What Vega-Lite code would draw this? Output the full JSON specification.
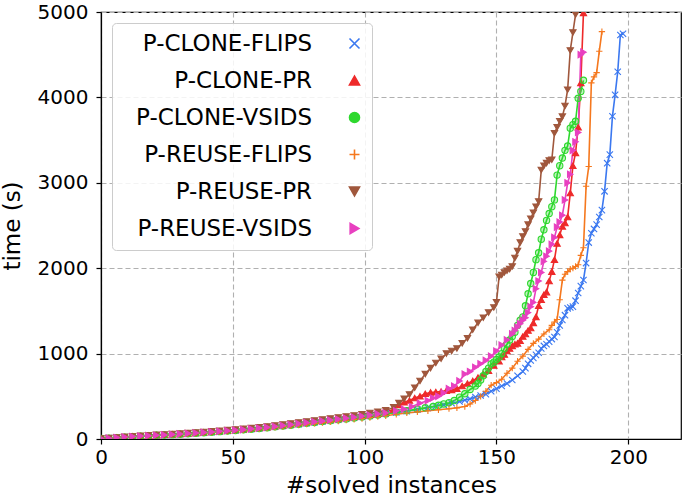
{
  "$schema": "https://vega.github.io/schema/vega-lite/v6.json",
  "width": 580,
  "height": 427,
  "autosize": "none",
  "padding": {"left": 101, "top": 12, "right": 4, "bottom": 60},
  "background": "white",
  "config": {
    "font": "DejaVu Sans",
    "view": {"stroke": "black", "strokeWidth": 1.2},
    "axis": {
      "domainColor": "black", "domainWidth": 1.2, "tickColor": "black", "tickWidth": 1.2, "tickSize": 5,
      "labelColor": "black", "titleColor": "black", "labelFont": "DejaVu Sans", "titleFont": "DejaVu Sans",
      "labelFontSize": 20, "titleFontSize": 23, "titleFontWeight": "normal",
      "gridColor": "#b0b0b0", "gridDash": [5, 3], "gridWidth": 1.1
    }
  },
  "data": {"values": [
    {"s":"P-CLONE-FLIPS","n":0,"t":5},{"s":"P-CLONE-FLIPS","n":3,"t":10},{"s":"P-CLONE-FLIPS","n":6,"t":17},{"s":"P-CLONE-FLIPS","n":9,"t":23},{"s":"P-CLONE-FLIPS","n":12,"t":28},{"s":"P-CLONE-FLIPS","n":15,"t":33},{"s":"P-CLONE-FLIPS","n":18,"t":38},{"s":"P-CLONE-FLIPS","n":21,"t":43},{"s":"P-CLONE-FLIPS","n":24,"t":47},{"s":"P-CLONE-FLIPS","n":27,"t":52},{"s":"P-CLONE-FLIPS","n":30,"t":57},{"s":"P-CLONE-FLIPS","n":33,"t":63},{"s":"P-CLONE-FLIPS","n":36,"t":69},{"s":"P-CLONE-FLIPS","n":39,"t":74},{"s":"P-CLONE-FLIPS","n":42,"t":80},{"s":"P-CLONE-FLIPS","n":45,"t":87},{"s":"P-CLONE-FLIPS","n":48,"t":94},{"s":"P-CLONE-FLIPS","n":51,"t":101},{"s":"P-CLONE-FLIPS","n":54,"t":108},{"s":"P-CLONE-FLIPS","n":57,"t":116},{"s":"P-CLONE-FLIPS","n":60,"t":124},{"s":"P-CLONE-FLIPS","n":63,"t":133},{"s":"P-CLONE-FLIPS","n":66,"t":143},{"s":"P-CLONE-FLIPS","n":69,"t":153},{"s":"P-CLONE-FLIPS","n":72,"t":164},{"s":"P-CLONE-FLIPS","n":75,"t":174},{"s":"P-CLONE-FLIPS","n":78,"t":185},{"s":"P-CLONE-FLIPS","n":81,"t":196},{"s":"P-CLONE-FLIPS","n":84,"t":206},{"s":"P-CLONE-FLIPS","n":87,"t":216},{"s":"P-CLONE-FLIPS","n":90,"t":226},{"s":"P-CLONE-FLIPS","n":93,"t":237},{"s":"P-CLONE-FLIPS","n":96,"t":248},{"s":"P-CLONE-FLIPS","n":99,"t":260},{"s":"P-CLONE-FLIPS","n":102,"t":271},{"s":"P-CLONE-FLIPS","n":105,"t":284},{"s":"P-CLONE-FLIPS","n":108,"t":297},{"s":"P-CLONE-FLIPS","n":112,"t":310},{"s":"P-CLONE-FLIPS","n":116,"t":325},{"s":"P-CLONE-FLIPS","n":120,"t":345},{"s":"P-CLONE-FLIPS","n":124,"t":365},{"s":"P-CLONE-FLIPS","n":127,"t":385},{"s":"P-CLONE-FLIPS","n":130,"t":400},{"s":"P-CLONE-FLIPS","n":133,"t":418},{"s":"P-CLONE-FLIPS","n":136,"t":440},{"s":"P-CLONE-FLIPS","n":138,"t":455},{"s":"P-CLONE-FLIPS","n":140,"t":470},{"s":"P-CLONE-FLIPS","n":142,"t":492},{"s":"P-CLONE-FLIPS","n":144,"t":510},{"s":"P-CLONE-FLIPS","n":146,"t":525},{"s":"P-CLONE-FLIPS","n":148,"t":560},{"s":"P-CLONE-FLIPS","n":150,"t":590},{"s":"P-CLONE-FLIPS","n":152,"t":620},{"s":"P-CLONE-FLIPS","n":154,"t":650},{"s":"P-CLONE-FLIPS","n":156,"t":690},{"s":"P-CLONE-FLIPS","n":158,"t":740},{"s":"P-CLONE-FLIPS","n":160,"t":790},{"s":"P-CLONE-FLIPS","n":161,"t":830},{"s":"P-CLONE-FLIPS","n":162,"t":880},{"s":"P-CLONE-FLIPS","n":163,"t":920},{"s":"P-CLONE-FLIPS","n":164,"t":950},{"s":"P-CLONE-FLIPS","n":165,"t":985},{"s":"P-CLONE-FLIPS","n":166,"t":1010},{"s":"P-CLONE-FLIPS","n":167,"t":1060},{"s":"P-CLONE-FLIPS","n":168,"t":1090},{"s":"P-CLONE-FLIPS","n":169,"t":1110},{"s":"P-CLONE-FLIPS","n":170,"t":1140},{"s":"P-CLONE-FLIPS","n":171,"t":1170},{"s":"P-CLONE-FLIPS","n":172,"t":1195},{"s":"P-CLONE-FLIPS","n":173,"t":1250},{"s":"P-CLONE-FLIPS","n":174,"t":1330},{"s":"P-CLONE-FLIPS","n":175,"t":1395},{"s":"P-CLONE-FLIPS","n":176,"t":1450},{"s":"P-CLONE-FLIPS","n":177,"t":1530},{"s":"P-CLONE-FLIPS","n":178,"t":1540},{"s":"P-CLONE-FLIPS","n":179,"t":1550},{"s":"P-CLONE-FLIPS","n":180,"t":1620},{"s":"P-CLONE-FLIPS","n":181,"t":1710},{"s":"P-CLONE-FLIPS","n":182,"t":1790},{"s":"P-CLONE-FLIPS","n":183,"t":1862},{"s":"P-CLONE-FLIPS","n":184,"t":2060},{"s":"P-CLONE-FLIPS","n":185,"t":2300},{"s":"P-CLONE-FLIPS","n":186,"t":2410},{"s":"P-CLONE-FLIPS","n":187,"t":2460},{"s":"P-CLONE-FLIPS","n":188,"t":2510},{"s":"P-CLONE-FLIPS","n":189,"t":2600},{"s":"P-CLONE-FLIPS","n":190,"t":2680},{"s":"P-CLONE-FLIPS","n":191,"t":2900},{"s":"P-CLONE-FLIPS","n":192,"t":3230},{"s":"P-CLONE-FLIPS","n":193,"t":3330},{"s":"P-CLONE-FLIPS","n":194,"t":3780},{"s":"P-CLONE-FLIPS","n":195,"t":4030},{"s":"P-CLONE-FLIPS","n":196,"t":4300},{"s":"P-CLONE-FLIPS","n":197,"t":4730},{"s":"P-CLONE-FLIPS","n":198,"t":4745},
    {"s":"P-CLONE-PR","n":0,"t":5},{"s":"P-CLONE-PR","n":3,"t":10},{"s":"P-CLONE-PR","n":6,"t":17},{"s":"P-CLONE-PR","n":9,"t":23},{"s":"P-CLONE-PR","n":12,"t":30},{"s":"P-CLONE-PR","n":15,"t":35},{"s":"P-CLONE-PR","n":18,"t":40},{"s":"P-CLONE-PR","n":21,"t":45},{"s":"P-CLONE-PR","n":24,"t":49},{"s":"P-CLONE-PR","n":27,"t":54},{"s":"P-CLONE-PR","n":30,"t":59},{"s":"P-CLONE-PR","n":33,"t":65},{"s":"P-CLONE-PR","n":36,"t":71},{"s":"P-CLONE-PR","n":39,"t":78},{"s":"P-CLONE-PR","n":42,"t":84},{"s":"P-CLONE-PR","n":45,"t":91},{"s":"P-CLONE-PR","n":48,"t":98},{"s":"P-CLONE-PR","n":51,"t":105},{"s":"P-CLONE-PR","n":54,"t":112},{"s":"P-CLONE-PR","n":57,"t":120},{"s":"P-CLONE-PR","n":60,"t":130},{"s":"P-CLONE-PR","n":63,"t":139},{"s":"P-CLONE-PR","n":66,"t":149},{"s":"P-CLONE-PR","n":69,"t":159},{"s":"P-CLONE-PR","n":72,"t":170},{"s":"P-CLONE-PR","n":75,"t":182},{"s":"P-CLONE-PR","n":78,"t":193},{"s":"P-CLONE-PR","n":81,"t":204},{"s":"P-CLONE-PR","n":84,"t":214},{"s":"P-CLONE-PR","n":87,"t":224},{"s":"P-CLONE-PR","n":90,"t":236},{"s":"P-CLONE-PR","n":93,"t":247},{"s":"P-CLONE-PR","n":96,"t":258},{"s":"P-CLONE-PR","n":99,"t":270},{"s":"P-CLONE-PR","n":102,"t":283},{"s":"P-CLONE-PR","n":105,"t":296},{"s":"P-CLONE-PR","n":108,"t":315},{"s":"P-CLONE-PR","n":111,"t":345},{"s":"P-CLONE-PR","n":113,"t":400},{"s":"P-CLONE-PR","n":115,"t":430},{"s":"P-CLONE-PR","n":117,"t":450},{"s":"P-CLONE-PR","n":119,"t":480},{"s":"P-CLONE-PR","n":121,"t":500},{"s":"P-CLONE-PR","n":123,"t":530},{"s":"P-CLONE-PR","n":125,"t":545},{"s":"P-CLONE-PR","n":127,"t":550},{"s":"P-CLONE-PR","n":129,"t":555},{"s":"P-CLONE-PR","n":131,"t":565},{"s":"P-CLONE-PR","n":133,"t":575},{"s":"P-CLONE-PR","n":135,"t":590},{"s":"P-CLONE-PR","n":137,"t":620},{"s":"P-CLONE-PR","n":139,"t":650},{"s":"P-CLONE-PR","n":141,"t":680},{"s":"P-CLONE-PR","n":143,"t":720},{"s":"P-CLONE-PR","n":145,"t":760},{"s":"P-CLONE-PR","n":147,"t":800},{"s":"P-CLONE-PR","n":149,"t":860},{"s":"P-CLONE-PR","n":151,"t":910},{"s":"P-CLONE-PR","n":152,"t":960},{"s":"P-CLONE-PR","n":153,"t":990},{"s":"P-CLONE-PR","n":154,"t":1030},{"s":"P-CLONE-PR","n":155,"t":1060},{"s":"P-CLONE-PR","n":156,"t":1090},{"s":"P-CLONE-PR","n":157,"t":1110},{"s":"P-CLONE-PR","n":158,"t":1120},{"s":"P-CLONE-PR","n":159,"t":1150},{"s":"P-CLONE-PR","n":160,"t":1200},{"s":"P-CLONE-PR","n":161,"t":1230},{"s":"P-CLONE-PR","n":162,"t":1270},{"s":"P-CLONE-PR","n":163,"t":1300},{"s":"P-CLONE-PR","n":164,"t":1360},{"s":"P-CLONE-PR","n":165,"t":1430},{"s":"P-CLONE-PR","n":166,"t":1560},{"s":"P-CLONE-PR","n":167,"t":1630},{"s":"P-CLONE-PR","n":168,"t":1690},{"s":"P-CLONE-PR","n":169,"t":1720},{"s":"P-CLONE-PR","n":170,"t":1850},{"s":"P-CLONE-PR","n":171,"t":1960},{"s":"P-CLONE-PR","n":172,"t":2100},{"s":"P-CLONE-PR","n":173,"t":2290},{"s":"P-CLONE-PR","n":174,"t":2390},{"s":"P-CLONE-PR","n":175,"t":2490},{"s":"P-CLONE-PR","n":176,"t":2530},{"s":"P-CLONE-PR","n":177,"t":2600},{"s":"P-CLONE-PR","n":178,"t":2880},{"s":"P-CLONE-PR","n":179,"t":3200},{"s":"P-CLONE-PR","n":180,"t":3350},{"s":"P-CLONE-PR","n":181,"t":3650},{"s":"P-CLONE-PR","n":182,"t":4170},{"s":"P-CLONE-PR","n":183,"t":4990},
    {"s":"P-CLONE-VSIDS","n":0,"t":5},{"s":"P-CLONE-VSIDS","n":3,"t":10},{"s":"P-CLONE-VSIDS","n":6,"t":16},{"s":"P-CLONE-VSIDS","n":9,"t":22},{"s":"P-CLONE-VSIDS","n":12,"t":28},{"s":"P-CLONE-VSIDS","n":15,"t":33},{"s":"P-CLONE-VSIDS","n":18,"t":38},{"s":"P-CLONE-VSIDS","n":21,"t":43},{"s":"P-CLONE-VSIDS","n":24,"t":47},{"s":"P-CLONE-VSIDS","n":27,"t":51},{"s":"P-CLONE-VSIDS","n":30,"t":56},{"s":"P-CLONE-VSIDS","n":33,"t":62},{"s":"P-CLONE-VSIDS","n":36,"t":68},{"s":"P-CLONE-VSIDS","n":39,"t":74},{"s":"P-CLONE-VSIDS","n":42,"t":80},{"s":"P-CLONE-VSIDS","n":45,"t":86},{"s":"P-CLONE-VSIDS","n":48,"t":93},{"s":"P-CLONE-VSIDS","n":51,"t":100},{"s":"P-CLONE-VSIDS","n":54,"t":107},{"s":"P-CLONE-VSIDS","n":57,"t":114},{"s":"P-CLONE-VSIDS","n":60,"t":123},{"s":"P-CLONE-VSIDS","n":63,"t":132},{"s":"P-CLONE-VSIDS","n":66,"t":142},{"s":"P-CLONE-VSIDS","n":69,"t":151},{"s":"P-CLONE-VSIDS","n":72,"t":162},{"s":"P-CLONE-VSIDS","n":75,"t":173},{"s":"P-CLONE-VSIDS","n":78,"t":183},{"s":"P-CLONE-VSIDS","n":81,"t":194},{"s":"P-CLONE-VSIDS","n":84,"t":204},{"s":"P-CLONE-VSIDS","n":87,"t":213},{"s":"P-CLONE-VSIDS","n":90,"t":224},{"s":"P-CLONE-VSIDS","n":93,"t":235},{"s":"P-CLONE-VSIDS","n":96,"t":245},{"s":"P-CLONE-VSIDS","n":99,"t":257},{"s":"P-CLONE-VSIDS","n":102,"t":269},{"s":"P-CLONE-VSIDS","n":105,"t":281},{"s":"P-CLONE-VSIDS","n":108,"t":294},{"s":"P-CLONE-VSIDS","n":112,"t":315},{"s":"P-CLONE-VSIDS","n":116,"t":330},{"s":"P-CLONE-VSIDS","n":120,"t":350},{"s":"P-CLONE-VSIDS","n":123,"t":365},{"s":"P-CLONE-VSIDS","n":126,"t":380},{"s":"P-CLONE-VSIDS","n":128,"t":395},{"s":"P-CLONE-VSIDS","n":130,"t":410},{"s":"P-CLONE-VSIDS","n":132,"t":425},{"s":"P-CLONE-VSIDS","n":134,"t":450},{"s":"P-CLONE-VSIDS","n":136,"t":490},{"s":"P-CLONE-VSIDS","n":138,"t":530},{"s":"P-CLONE-VSIDS","n":140,"t":580},{"s":"P-CLONE-VSIDS","n":142,"t":620},{"s":"P-CLONE-VSIDS","n":143,"t":650},{"s":"P-CLONE-VSIDS","n":144,"t":690},{"s":"P-CLONE-VSIDS","n":145,"t":740},{"s":"P-CLONE-VSIDS","n":146,"t":790},{"s":"P-CLONE-VSIDS","n":147,"t":830},{"s":"P-CLONE-VSIDS","n":148,"t":880},{"s":"P-CLONE-VSIDS","n":149,"t":900},{"s":"P-CLONE-VSIDS","n":150,"t":930},{"s":"P-CLONE-VSIDS","n":151,"t":960},{"s":"P-CLONE-VSIDS","n":152,"t":1000},{"s":"P-CLONE-VSIDS","n":153,"t":1060},{"s":"P-CLONE-VSIDS","n":154,"t":1110},{"s":"P-CLONE-VSIDS","n":155,"t":1160},{"s":"P-CLONE-VSIDS","n":156,"t":1200},{"s":"P-CLONE-VSIDS","n":157,"t":1250},{"s":"P-CLONE-VSIDS","n":158,"t":1330},{"s":"P-CLONE-VSIDS","n":159,"t":1390},{"s":"P-CLONE-VSIDS","n":160,"t":1430},{"s":"P-CLONE-VSIDS","n":161,"t":1560},{"s":"P-CLONE-VSIDS","n":162,"t":1700},{"s":"P-CLONE-VSIDS","n":163,"t":1820},{"s":"P-CLONE-VSIDS","n":164,"t":1950},{"s":"P-CLONE-VSIDS","n":165,"t":2100},{"s":"P-CLONE-VSIDS","n":166,"t":2180},{"s":"P-CLONE-VSIDS","n":167,"t":2340},{"s":"P-CLONE-VSIDS","n":168,"t":2450},{"s":"P-CLONE-VSIDS","n":169,"t":2560},{"s":"P-CLONE-VSIDS","n":170,"t":2640},{"s":"P-CLONE-VSIDS","n":171,"t":2720},{"s":"P-CLONE-VSIDS","n":172,"t":2800},{"s":"P-CLONE-VSIDS","n":173,"t":3090},{"s":"P-CLONE-VSIDS","n":174,"t":3200},{"s":"P-CLONE-VSIDS","n":175,"t":3290},{"s":"P-CLONE-VSIDS","n":176,"t":3380},{"s":"P-CLONE-VSIDS","n":177,"t":3430},{"s":"P-CLONE-VSIDS","n":178,"t":3640},{"s":"P-CLONE-VSIDS","n":179,"t":3680},{"s":"P-CLONE-VSIDS","n":180,"t":3720},{"s":"P-CLONE-VSIDS","n":181,"t":3990},{"s":"P-CLONE-VSIDS","n":182,"t":4070},{"s":"P-CLONE-VSIDS","n":183,"t":4200},
    {"s":"P-REUSE-FLIPS","n":0,"t":5},{"s":"P-REUSE-FLIPS","n":3,"t":10},{"s":"P-REUSE-FLIPS","n":6,"t":16},{"s":"P-REUSE-FLIPS","n":9,"t":22},{"s":"P-REUSE-FLIPS","n":12,"t":28},{"s":"P-REUSE-FLIPS","n":15,"t":32},{"s":"P-REUSE-FLIPS","n":18,"t":37},{"s":"P-REUSE-FLIPS","n":21,"t":42},{"s":"P-REUSE-FLIPS","n":24,"t":46},{"s":"P-REUSE-FLIPS","n":27,"t":50},{"s":"P-REUSE-FLIPS","n":30,"t":55},{"s":"P-REUSE-FLIPS","n":33,"t":61},{"s":"P-REUSE-FLIPS","n":36,"t":66},{"s":"P-REUSE-FLIPS","n":39,"t":72},{"s":"P-REUSE-FLIPS","n":42,"t":78},{"s":"P-REUSE-FLIPS","n":45,"t":85},{"s":"P-REUSE-FLIPS","n":48,"t":91},{"s":"P-REUSE-FLIPS","n":51,"t":98},{"s":"P-REUSE-FLIPS","n":54,"t":104},{"s":"P-REUSE-FLIPS","n":57,"t":112},{"s":"P-REUSE-FLIPS","n":60,"t":120},{"s":"P-REUSE-FLIPS","n":63,"t":128},{"s":"P-REUSE-FLIPS","n":66,"t":136},{"s":"P-REUSE-FLIPS","n":69,"t":145},{"s":"P-REUSE-FLIPS","n":72,"t":155},{"s":"P-REUSE-FLIPS","n":75,"t":164},{"s":"P-REUSE-FLIPS","n":78,"t":174},{"s":"P-REUSE-FLIPS","n":81,"t":183},{"s":"P-REUSE-FLIPS","n":84,"t":192},{"s":"P-REUSE-FLIPS","n":87,"t":201},{"s":"P-REUSE-FLIPS","n":90,"t":210},{"s":"P-REUSE-FLIPS","n":93,"t":220},{"s":"P-REUSE-FLIPS","n":96,"t":230},{"s":"P-REUSE-FLIPS","n":99,"t":240},{"s":"P-REUSE-FLIPS","n":102,"t":250},{"s":"P-REUSE-FLIPS","n":105,"t":261},{"s":"P-REUSE-FLIPS","n":108,"t":272},{"s":"P-REUSE-FLIPS","n":112,"t":290},{"s":"P-REUSE-FLIPS","n":116,"t":305},{"s":"P-REUSE-FLIPS","n":120,"t":318},{"s":"P-REUSE-FLIPS","n":124,"t":330},{"s":"P-REUSE-FLIPS","n":128,"t":342},{"s":"P-REUSE-FLIPS","n":132,"t":355},{"s":"P-REUSE-FLIPS","n":135,"t":365},{"s":"P-REUSE-FLIPS","n":138,"t":380},{"s":"P-REUSE-FLIPS","n":140,"t":410},{"s":"P-REUSE-FLIPS","n":142,"t":450},{"s":"P-REUSE-FLIPS","n":144,"t":500},{"s":"P-REUSE-FLIPS","n":146,"t":560},{"s":"P-REUSE-FLIPS","n":148,"t":630},{"s":"P-REUSE-FLIPS","n":150,"t":660},{"s":"P-REUSE-FLIPS","n":152,"t":700},{"s":"P-REUSE-FLIPS","n":154,"t":770},{"s":"P-REUSE-FLIPS","n":156,"t":830},{"s":"P-REUSE-FLIPS","n":158,"t":910},{"s":"P-REUSE-FLIPS","n":160,"t":970},{"s":"P-REUSE-FLIPS","n":162,"t":1050},{"s":"P-REUSE-FLIPS","n":164,"t":1120},{"s":"P-REUSE-FLIPS","n":166,"t":1170},{"s":"P-REUSE-FLIPS","n":168,"t":1230},{"s":"P-REUSE-FLIPS","n":170,"t":1280},{"s":"P-REUSE-FLIPS","n":171,"t":1330},{"s":"P-REUSE-FLIPS","n":172,"t":1370},{"s":"P-REUSE-FLIPS","n":173,"t":1400},{"s":"P-REUSE-FLIPS","n":174,"t":1630},{"s":"P-REUSE-FLIPS","n":175,"t":1860},{"s":"P-REUSE-FLIPS","n":176,"t":1930},{"s":"P-REUSE-FLIPS","n":177,"t":1960},{"s":"P-REUSE-FLIPS","n":178,"t":1990},{"s":"P-REUSE-FLIPS","n":179,"t":2000},{"s":"P-REUSE-FLIPS","n":180,"t":2020},{"s":"P-REUSE-FLIPS","n":181,"t":2040},{"s":"P-REUSE-FLIPS","n":182,"t":2150},{"s":"P-REUSE-FLIPS","n":183,"t":2240},{"s":"P-REUSE-FLIPS","n":184,"t":2960},{"s":"P-REUSE-FLIPS","n":185,"t":3190},{"s":"P-REUSE-FLIPS","n":186,"t":4170},{"s":"P-REUSE-FLIPS","n":187,"t":4240},{"s":"P-REUSE-FLIPS","n":188,"t":4290},{"s":"P-REUSE-FLIPS","n":189,"t":4540},{"s":"P-REUSE-FLIPS","n":190,"t":4770},
    {"s":"P-REUSE-PR","n":0,"t":5},{"s":"P-REUSE-PR","n":3,"t":11},{"s":"P-REUSE-PR","n":6,"t":18},{"s":"P-REUSE-PR","n":9,"t":25},{"s":"P-REUSE-PR","n":12,"t":31},{"s":"P-REUSE-PR","n":15,"t":37},{"s":"P-REUSE-PR","n":18,"t":42},{"s":"P-REUSE-PR","n":21,"t":48},{"s":"P-REUSE-PR","n":24,"t":52},{"s":"P-REUSE-PR","n":27,"t":57},{"s":"P-REUSE-PR","n":30,"t":63},{"s":"P-REUSE-PR","n":33,"t":69},{"s":"P-REUSE-PR","n":36,"t":76},{"s":"P-REUSE-PR","n":39,"t":82},{"s":"P-REUSE-PR","n":42,"t":89},{"s":"P-REUSE-PR","n":45,"t":96},{"s":"P-REUSE-PR","n":48,"t":104},{"s":"P-REUSE-PR","n":51,"t":111},{"s":"P-REUSE-PR","n":54,"t":119},{"s":"P-REUSE-PR","n":57,"t":127},{"s":"P-REUSE-PR","n":60,"t":137},{"s":"P-REUSE-PR","n":63,"t":147},{"s":"P-REUSE-PR","n":66,"t":158},{"s":"P-REUSE-PR","n":69,"t":169},{"s":"P-REUSE-PR","n":72,"t":181},{"s":"P-REUSE-PR","n":75,"t":193},{"s":"P-REUSE-PR","n":78,"t":205},{"s":"P-REUSE-PR","n":81,"t":217},{"s":"P-REUSE-PR","n":84,"t":228},{"s":"P-REUSE-PR","n":87,"t":240},{"s":"P-REUSE-PR","n":90,"t":252},{"s":"P-REUSE-PR","n":93,"t":264},{"s":"P-REUSE-PR","n":96,"t":276},{"s":"P-REUSE-PR","n":99,"t":290},{"s":"P-REUSE-PR","n":102,"t":304},{"s":"P-REUSE-PR","n":105,"t":320},{"s":"P-REUSE-PR","n":108,"t":335},{"s":"P-REUSE-PR","n":111,"t":370},{"s":"P-REUSE-PR","n":113,"t":420},{"s":"P-REUSE-PR","n":115,"t":470},{"s":"P-REUSE-PR","n":117,"t":520},{"s":"P-REUSE-PR","n":119,"t":600},{"s":"P-REUSE-PR","n":121,"t":680},{"s":"P-REUSE-PR","n":123,"t":760},{"s":"P-REUSE-PR","n":125,"t":830},{"s":"P-REUSE-PR","n":127,"t":890},{"s":"P-REUSE-PR","n":129,"t":940},{"s":"P-REUSE-PR","n":131,"t":1000},{"s":"P-REUSE-PR","n":133,"t":1030},{"s":"P-REUSE-PR","n":135,"t":1060},{"s":"P-REUSE-PR","n":137,"t":1120},{"s":"P-REUSE-PR","n":139,"t":1180},{"s":"P-REUSE-PR","n":141,"t":1280},{"s":"P-REUSE-PR","n":143,"t":1360},{"s":"P-REUSE-PR","n":145,"t":1420},{"s":"P-REUSE-PR","n":147,"t":1480},{"s":"P-REUSE-PR","n":149,"t":1540},{"s":"P-REUSE-PR","n":150,"t":1600},{"s":"P-REUSE-PR","n":151,"t":1900},{"s":"P-REUSE-PR","n":152,"t":1920},{"s":"P-REUSE-PR","n":153,"t":1950},{"s":"P-REUSE-PR","n":154,"t":1970},{"s":"P-REUSE-PR","n":155,"t":1990},{"s":"P-REUSE-PR","n":156,"t":2020},{"s":"P-REUSE-PR","n":157,"t":2120},{"s":"P-REUSE-PR","n":158,"t":2200},{"s":"P-REUSE-PR","n":159,"t":2300},{"s":"P-REUSE-PR","n":160,"t":2370},{"s":"P-REUSE-PR","n":161,"t":2430},{"s":"P-REUSE-PR","n":162,"t":2510},{"s":"P-REUSE-PR","n":163,"t":2580},{"s":"P-REUSE-PR","n":164,"t":2650},{"s":"P-REUSE-PR","n":165,"t":2720},{"s":"P-REUSE-PR","n":166,"t":2780},{"s":"P-REUSE-PR","n":167,"t":3150},{"s":"P-REUSE-PR","n":168,"t":3200},{"s":"P-REUSE-PR","n":169,"t":3230},{"s":"P-REUSE-PR","n":170,"t":3260},{"s":"P-REUSE-PR","n":171,"t":3270},{"s":"P-REUSE-PR","n":172,"t":3580},{"s":"P-REUSE-PR","n":173,"t":3650},{"s":"P-REUSE-PR","n":174,"t":3720},{"s":"P-REUSE-PR","n":175,"t":3775},{"s":"P-REUSE-PR","n":176,"t":3900},{"s":"P-REUSE-PR","n":177,"t":4090},{"s":"P-REUSE-PR","n":178,"t":4550},{"s":"P-REUSE-PR","n":179,"t":4760},{"s":"P-REUSE-PR","n":180,"t":4970},
    {"s":"P-REUSE-VSIDS","n":0,"t":5},{"s":"P-REUSE-VSIDS","n":3,"t":10},{"s":"P-REUSE-VSIDS","n":6,"t":17},{"s":"P-REUSE-VSIDS","n":9,"t":23},{"s":"P-REUSE-VSIDS","n":12,"t":29},{"s":"P-REUSE-VSIDS","n":15,"t":34},{"s":"P-REUSE-VSIDS","n":18,"t":39},{"s":"P-REUSE-VSIDS","n":21,"t":44},{"s":"P-REUSE-VSIDS","n":24,"t":48},{"s":"P-REUSE-VSIDS","n":27,"t":54},{"s":"P-REUSE-VSIDS","n":30,"t":59},{"s":"P-REUSE-VSIDS","n":33,"t":65},{"s":"P-REUSE-VSIDS","n":36,"t":71},{"s":"P-REUSE-VSIDS","n":39,"t":77},{"s":"P-REUSE-VSIDS","n":42,"t":83},{"s":"P-REUSE-VSIDS","n":45,"t":90},{"s":"P-REUSE-VSIDS","n":48,"t":97},{"s":"P-REUSE-VSIDS","n":51,"t":104},{"s":"P-REUSE-VSIDS","n":54,"t":111},{"s":"P-REUSE-VSIDS","n":57,"t":119},{"s":"P-REUSE-VSIDS","n":60,"t":128},{"s":"P-REUSE-VSIDS","n":63,"t":137},{"s":"P-REUSE-VSIDS","n":66,"t":147},{"s":"P-REUSE-VSIDS","n":69,"t":158},{"s":"P-REUSE-VSIDS","n":72,"t":169},{"s":"P-REUSE-VSIDS","n":75,"t":180},{"s":"P-REUSE-VSIDS","n":78,"t":191},{"s":"P-REUSE-VSIDS","n":81,"t":202},{"s":"P-REUSE-VSIDS","n":84,"t":212},{"s":"P-REUSE-VSIDS","n":87,"t":222},{"s":"P-REUSE-VSIDS","n":90,"t":233},{"s":"P-REUSE-VSIDS","n":93,"t":244},{"s":"P-REUSE-VSIDS","n":96,"t":256},{"s":"P-REUSE-VSIDS","n":99,"t":268},{"s":"P-REUSE-VSIDS","n":102,"t":280},{"s":"P-REUSE-VSIDS","n":105,"t":293},{"s":"P-REUSE-VSIDS","n":108,"t":306},{"s":"P-REUSE-VSIDS","n":112,"t":330},{"s":"P-REUSE-VSIDS","n":115,"t":350},{"s":"P-REUSE-VSIDS","n":118,"t":380},{"s":"P-REUSE-VSIDS","n":121,"t":420},{"s":"P-REUSE-VSIDS","n":124,"t":450},{"s":"P-REUSE-VSIDS","n":126,"t":480},{"s":"P-REUSE-VSIDS","n":128,"t":500},{"s":"P-REUSE-VSIDS","n":130,"t":540},{"s":"P-REUSE-VSIDS","n":132,"t":590},{"s":"P-REUSE-VSIDS","n":134,"t":620},{"s":"P-REUSE-VSIDS","n":136,"t":680},{"s":"P-REUSE-VSIDS","n":138,"t":760},{"s":"P-REUSE-VSIDS","n":140,"t":790},{"s":"P-REUSE-VSIDS","n":142,"t":840},{"s":"P-REUSE-VSIDS","n":144,"t":880},{"s":"P-REUSE-VSIDS","n":146,"t":920},{"s":"P-REUSE-VSIDS","n":148,"t":970},{"s":"P-REUSE-VSIDS","n":150,"t":1030},{"s":"P-REUSE-VSIDS","n":152,"t":1100},{"s":"P-REUSE-VSIDS","n":154,"t":1160},{"s":"P-REUSE-VSIDS","n":156,"t":1230},{"s":"P-REUSE-VSIDS","n":157,"t":1270},{"s":"P-REUSE-VSIDS","n":158,"t":1310},{"s":"P-REUSE-VSIDS","n":159,"t":1350},{"s":"P-REUSE-VSIDS","n":160,"t":1390},{"s":"P-REUSE-VSIDS","n":161,"t":1420},{"s":"P-REUSE-VSIDS","n":162,"t":1480},{"s":"P-REUSE-VSIDS","n":163,"t":1550},{"s":"P-REUSE-VSIDS","n":164,"t":1600},{"s":"P-REUSE-VSIDS","n":165,"t":1760},{"s":"P-REUSE-VSIDS","n":166,"t":1850},{"s":"P-REUSE-VSIDS","n":167,"t":1950},{"s":"P-REUSE-VSIDS","n":168,"t":2080},{"s":"P-REUSE-VSIDS","n":169,"t":2140},{"s":"P-REUSE-VSIDS","n":170,"t":2200},{"s":"P-REUSE-VSIDS","n":171,"t":2280},{"s":"P-REUSE-VSIDS","n":172,"t":2360},{"s":"P-REUSE-VSIDS","n":173,"t":2480},{"s":"P-REUSE-VSIDS","n":174,"t":2540},{"s":"P-REUSE-VSIDS","n":175,"t":2620},{"s":"P-REUSE-VSIDS","n":176,"t":2800},{"s":"P-REUSE-VSIDS","n":177,"t":3000},{"s":"P-REUSE-VSIDS","n":178,"t":3100},{"s":"P-REUSE-VSIDS","n":179,"t":3380},{"s":"P-REUSE-VSIDS","n":180,"t":3480},{"s":"P-REUSE-VSIDS","n":181,"t":3590},{"s":"P-REUSE-VSIDS","n":182,"t":4500},{"s":"P-REUSE-VSIDS","n":183,"t":4530}
  ]},
  "encoding": {
    "x": {"field": "n", "type": "quantitative", "scale": {"domain": [0, 220], "nice": false},
      "axis": {"title": "#solved instances", "values": [0, 50, 100, 150, 200], "labelPadding": 3, "titlePadding": 7, "labelFlush": false}},
    "y": {"field": "t", "type": "quantitative", "scale": {"domain": [0, 5000], "nice": false},
      "axis": {"title": "time (s)", "format": "d", "values": [0, 1000, 2000, 3000, 4000, 5000], "labelPadding": 8, "titlePadding": 13}}
  },
  "layer": [
    {
      "mark": {"type": "line", "strokeWidth": 1.6, "clip": true},
      "encoding": {
        "color": {"field": "s", "type": "nominal",
          "scale": {"domain": ["P-CLONE-FLIPS","P-CLONE-PR","P-CLONE-VSIDS","P-REUSE-FLIPS","P-REUSE-PR","P-REUSE-VSIDS"],
            "range": ["#3b78f0","#ee2a2a","#2ed82e","#f5781e","#a0573c","#e840c0"]}}
      }
    },
    {
      "mark": {"type": "point", "filled": true, "opacity": 1, "size": 40, "strokeWidth": 1.1, "clip": true,
        "stroke": {"expr": "scale('color', datum.s)"}},
      "encoding": {
        "color": {"field": "s", "type": "nominal",
          "legend": {
            "title": null, "orient": "top-left", "offset": 11, "direction": "vertical", "columns": 1,
            "labelFont": "DejaVu Sans", "labelFontSize": 23, "labelColor": "black", "labelLimit": 400,
            "labelAlign": "right", "labelBaseline": "middle", "labelOffset": -54, "symbolOffset": 222,
            "symbolSize": 100, "symbolStrokeWidth": 1.6, "rowPadding": 13, "padding": 9,
            "fillColor": "rgba(255,255,255,0.85)", "strokeColor": "#cccccc", "cornerRadius": 4
          }},
        "shape": {"field": "s", "type": "nominal",
          "scale": {"domain": ["P-CLONE-FLIPS","P-CLONE-PR","P-CLONE-VSIDS","P-REUSE-FLIPS","P-REUSE-PR","P-REUSE-VSIDS"],
            "range": ["M-1,-1L1,1M-1,1L1,-1","triangle-up","circle","M-1,0L1,0M0,-1L0,1","triangle-down","triangle-right"]}},
        "fillOpacity": {"condition": {"test": "datum.s === 'P-CLONE-VSIDS'", "value": 0.3}, "value": 1}
      }
    }
  ]
}
